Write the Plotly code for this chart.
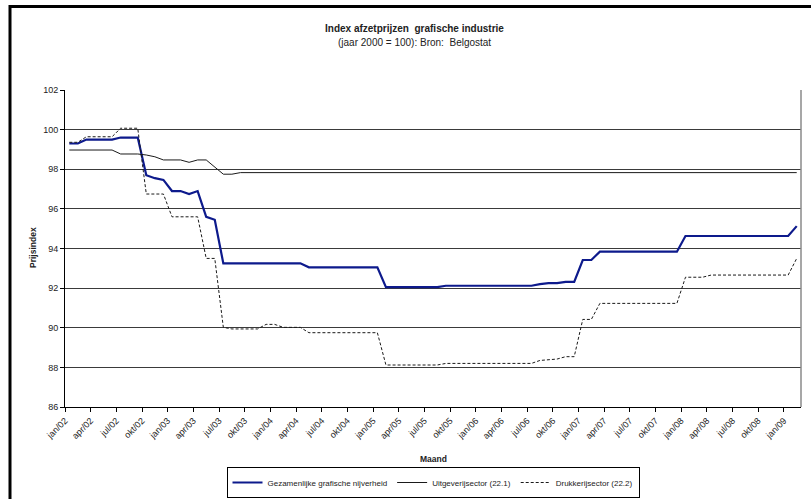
import plotly.graph_objects as go

# Maandlabels jan/02 .. feb/09
maand_afk = ["jan", "feb", "mrt", "apr", "mei", "jun", "jul", "aug", "sep", "okt", "nov", "dec"]
maanden = [f"{m}/{j:02d}" for j in range(2, 10) for m in maand_afk][:86]

gezamenlijk = (
    [99.3] * 2 + [99.5] * 4 + [99.6] * 3
    + [97.7, 97.55, 97.46, 96.9, 96.9, 96.75, 96.9, 95.6, 95.45]
    + [93.25] * 10 + [93.05] * 9 + [92.05] * 7 + [92.12] * 11
    + [92.2, 92.25, 92.25, 92.32, 92.32]
    + [93.42] * 2 + [93.84] * 10 + [94.63] * 13 + [95.13]
)

uitgeverij = (
    [98.97] * 6 + [98.77] * 3
    + [98.72, 98.63, 98.47, 98.47, 98.47, 98.35, 98.47, 98.47, 98.13, 97.75, 97.75]
    + [97.83] * 66
)

drukkerij = (
    [99.36] * 2 + [99.64] * 4 + [100.07] * 3 + [96.75] * 3 + [95.6] * 4
    + [93.5] * 2 + [90.02] + [89.94] * 4 + [90.17] * 2 + [90.02] * 3
    + [89.75] * 9 + [88.12] * 7 + [88.2] * 11 + [88.35, 88.4, 88.42]
    + [88.54] * 2 + [90.42] * 2 + [91.23] * 10 + [92.55] * 3 + [92.66] * 10
    + [93.5]
)

y_ticks = [86, 88, 90, 92, 94, 96, 98, 100, 102]

# Afmetingen in pixels; rechtermarge 0 zodat automargin geen extra ruimte reserveert
W, H = 811, 499
ML, MR, MT, MB = 65, 0, 90, 92
PW, PH = W - ML - MR, H - MT - MB
PLOT_RIGHT = 801


def px_x(px):
    return (px - ML) / PW


def px_y(py):
    return (H - MB - py) / PH


FONT = "Liberation Sans, Arial, sans-serif"
pos = list(range(len(maanden)))

fig = go.Figure()
fig.add_trace(go.Scatter(
    x=pos, y=gezamenlijk, mode="lines", name="Gezamenlijke grafische nijverheid",
    line=dict(color="#0d1a8c", width=2.2),
))
fig.add_trace(go.Scatter(
    x=pos, y=uitgeverij, mode="lines", name="Uitgeverijsector (22.1)",
    line=dict(color="#1a1a1a", width=1),
))
fig.add_trace(go.Scatter(
    x=pos, y=drukkerij, mode="lines", name="Drukkerijsector (22.2)",
    line=dict(color="#1a1a1a", width=1, dash="3px,2px"),
))

tick_idx = list(range(0, len(maanden), 3))

fig.update_layout(
    width=W, height=H,
    margin=dict(l=ML, r=MR, t=MT, b=MB),
    paper_bgcolor="white", plot_bgcolor="white",
    font=dict(family=FONT, size=9, color="#222"),
    showlegend=True,
    legend=dict(
        orientation="h", x=px_x(433), xanchor="center", y=px_y(498), yanchor="bottom",
        bordercolor="#000", borderwidth=1, font=dict(size=8, family=FONT, color="#222"),
        itemwidth=30, bgcolor="white",
    ),
    xaxis=dict(
        domain=[0, px_x(PLOT_RIGHT)],
        range=[-0.5, len(maanden) - 0.5],
        tickmode="array",
        tickvals=[i - 0.5 for i in tick_idx],
        ticktext=[maanden[i] for i in tick_idx],
        tickangle=-45,
        tickfont=dict(size=9, family=FONT, color="#222"),
        ticks="outside", ticklen=4, tickcolor="#000",
        showgrid=False, zeroline=False,
        showline=True, linecolor="#000", linewidth=1,
    ),
    yaxis=dict(
        range=[86, 102],
        tickmode="array", tickvals=y_ticks,
        tickfont=dict(size=9, family=FONT, color="#222"),
        ticks="outside", ticklen=4, tickcolor="#000",
        showgrid=True, gridcolor="#3a3a3a", gridwidth=1,
        zeroline=False,
        showline=True, linecolor="#000", linewidth=1,
    ),
    annotations=[
        dict(text="<b>Index afzetprijzen  grafische industrie</b>", x=px_x(414), y=px_y(28),
             xref="paper", yref="paper", yanchor="middle", showarrow=False,
             font=dict(size=10, family=FONT, color="#222")),
        dict(text="(jaar 2000 = 100): Bron:  Belgostat", x=px_x(414), y=px_y(42),
             xref="paper", yref="paper", yanchor="middle", showarrow=False,
             font=dict(size=10, family=FONT, color="#222")),
        dict(text="<b>Prijsindex</b>", x=px_x(33), y=px_y(248), textangle=-90,
             xref="paper", yref="paper", xanchor="center", yanchor="middle", showarrow=False,
             font=dict(size=8.5, family=FONT, color="#222")),
        dict(text="<b>Maand</b>", x=px_x(433), y=px_y(459),
             xref="paper", yref="paper", yanchor="middle", showarrow=False,
             font=dict(size=8.5, family=FONT, color="#222")),
    ],
    shapes=[
        # rechterrand van het plotgebied
        dict(type="line", xref="paper", yref="paper", x0=px_x(PLOT_RIGHT), x1=px_x(PLOT_RIGHT),
             y0=0, y1=1, line=dict(color="#8a8a8a", width=1.5)),
        # kader rond de grafiek
        dict(type="line", xref="paper", yref="paper", x0=px_x(9), x1=px_x(811), y0=px_y(6.5), y1=px_y(6.5),
             line=dict(color="#000", width=3)),
        dict(type="line", xref="paper", yref="paper", x0=px_x(10), x1=px_x(10), y0=px_y(5), y1=px_y(499),
             line=dict(color="#000", width=3)),
    ],
)

fig.write_html("out.html")
